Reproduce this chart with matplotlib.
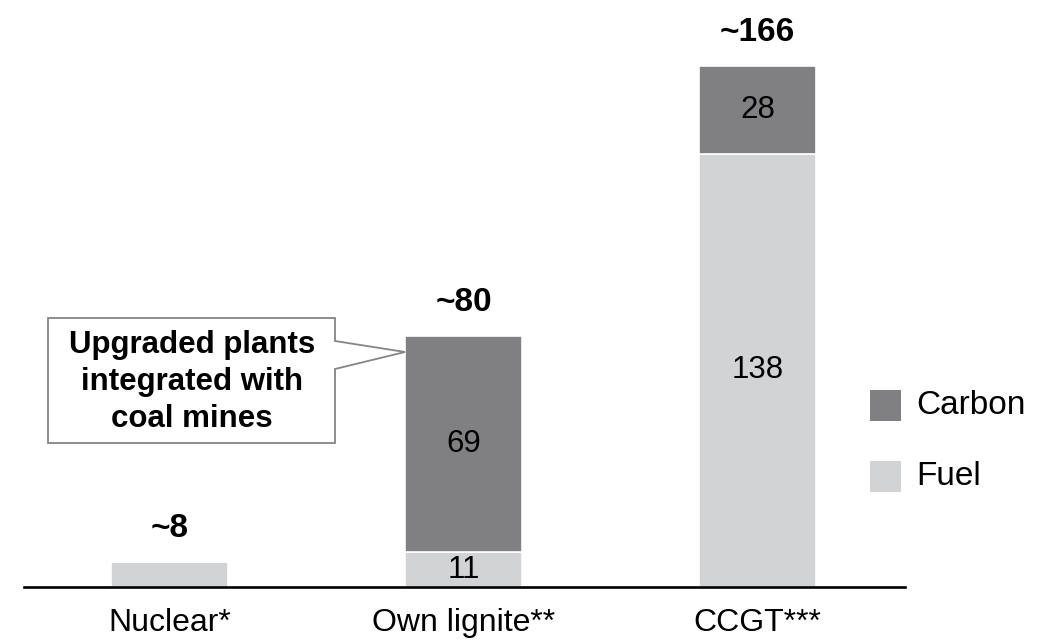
import matplotlib.pyplot as plt
from matplotlib.patches import Rectangle, Polygon

plt.rcParams["font.family"] = ["Liberation Sans", "DejaVu Sans"]

# data
categories = ["Nuclear*", "Own lignite**", "CCGT***"]
fuel = [8, 11, 138]
carbon = [0, 69, 28]
totals = ["~8", "~80", "~166"]
callout_text = "Upgraded plants\nintegrated with\ncoal mines"

carbon_color = "#808083"
fuel_color = "#d2d3d5"

W, H = 1056, 640
fig = plt.figure(figsize=(W / 100, H / 100), dpi=100)
ax = fig.add_axes([0, 0, 1, 1])


def fpx(x, y):
    # pixel position (from top-left) -> figure fraction
    return (x / W, 1 - y / H)


x = list(range(len(categories)))
ax.bar(x, fuel, width=0.395, color=fuel_color, edgecolor="white", linewidth=1.2, zorder=2)
ax.bar(x, carbon, bottom=fuel, width=0.395, color=carbon_color, edgecolor="white",
       linewidth=1.2, zorder=2)

# segment labels
for i in x:
    if fuel[i] > 9:
        ax.text(i, fuel[i] / 2, str(fuel[i]), ha="center", va="center", fontsize=22.5, zorder=3)
    if carbon[i] > 0:
        ax.text(i, fuel[i] + carbon[i] / 2, str(carbon[i]), ha="center", va="center",
                fontsize=22.5, zorder=3)
    ax.annotate(totals[i], (i, fuel[i] + carbon[i]), xytext=(0, 13), textcoords="offset points",
                ha="center", va="bottom", fontsize=24, fontweight="bold")

ax.set_xlim(-169.5 / 294, (W - 169.5) / 294)
ax.set_ylim(-53 / 3.14, (H - 53) / 3.14)
ax.axhline(0, xmin=24 / W, xmax=905 / W, color="black", linewidth=1.9, zorder=4)

ax.set_xticks(x)
ax.set_xticklabels(categories, fontsize=23)
ax.tick_params(axis="x", length=0, pad=-23)
ax.xaxis.set_tick_params(direction="in")
for lbl in ax.get_xticklabels():
    lbl.set_va("top")
ax.set_yticks([])
for s in ax.spines.values():
    s.set_visible(False)

# callout box
pts = [fpx(48, 318), fpx(335, 318), fpx(335, 341), fpx(405, 352), fpx(335, 369),
       fpx(335, 443), fpx(48, 443)]
fig.add_artist(Polygon(pts, closed=True, transform=fig.transFigure, facecolor="white",
                       edgecolor="#858585", linewidth=1.3, zorder=5))
cx, cy = fpx(192, 382)
fig.text(cx, cy, callout_text, ha="center", va="center", fontsize=22.5, fontweight="bold",
         linespacing=1.32, zorder=6)

# legend
for label, color, ytop in [("Carbon", carbon_color, 390), ("Fuel", fuel_color, 461)]:
    lx, ly = fpx(870, ytop + 31)
    fig.add_artist(Rectangle((lx, ly), 31 / W, 31 / H, transform=fig.transFigure,
                             facecolor=color, edgecolor="none"))
    tx, ty = fpx(916, ytop + 15.5)
    fig.text(tx, ty, label, ha="left", va="center", fontsize=24)

fig.savefig("out.png", dpi=100)
